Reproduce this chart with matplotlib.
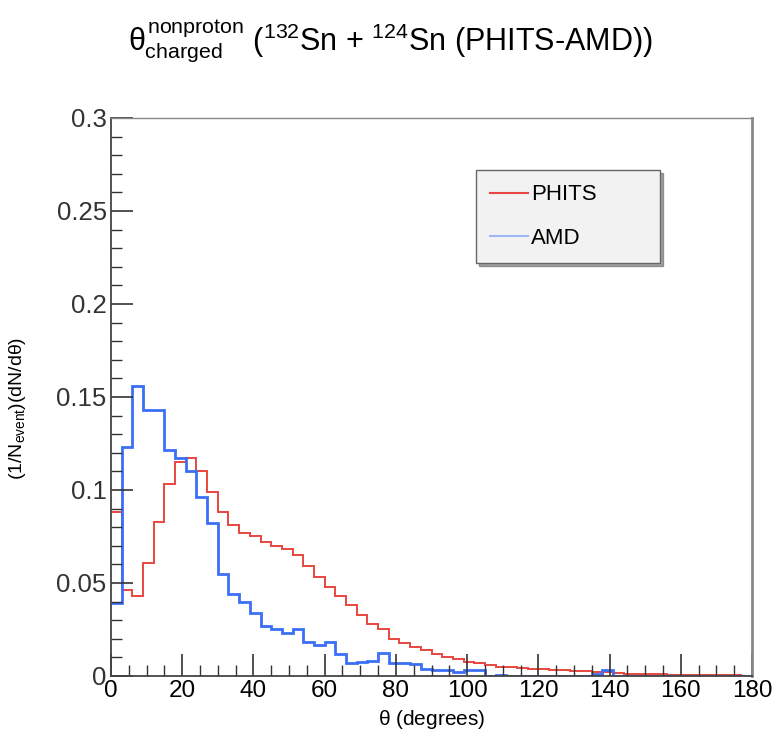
import numpy as np
import matplotlib
matplotlib.use("Agg")
import matplotlib.pyplot as plt
from matplotlib.lines import Line2D
from matplotlib.ticker import MultipleLocator

plt.rcParams['font.family'] = ['Liberation Sans', 'DejaVu Sans']
plt.rcParams['mathtext.fontset'] = 'custom'
plt.rcParams['mathtext.rm'] = 'Liberation Sans'
plt.rcParams['mathtext.it'] = 'Liberation Sans'

# 60 bins of 3 degrees, 0..180
theta_lo, theta_hi, n_bins = 0, 180, 60

phits = [0.088, 0.046, 0.043, 0.061, 0.083, 0.103, 0.115, 0.117, 0.110, 0.099,
         0.088, 0.081, 0.077, 0.075, 0.072, 0.070, 0.068, 0.065, 0.059, 0.053,
         0.048, 0.043, 0.038, 0.033, 0.028, 0.025, 0.020, 0.0175, 0.0158, 0.014,
         0.012, 0.0104, 0.009, 0.0077, 0.0068, 0.006, 0.005, 0.0048, 0.0042, 0.004,
         0.0038, 0.0032, 0.003, 0.0027, 0.0024, 0.0022, 0.002, 0.0014, 0.0012, 0.0011,
         0.001, 0.0008, 0.0006, 0.0005, 0.0005, 0.0004, 0.0004, 0.0003, 0.0003, 0.0002]

amd = [0.039, 0.123, 0.156, 0.143, 0.143, 0.1215, 0.117, 0.110, 0.096, 0.082,
       0.055, 0.044, 0.040, 0.034, 0.027, 0.025, 0.023, 0.025, 0.018, 0.0167,
       0.018, 0.012, 0.007, 0.0075, 0.008, 0.0125, 0.007, 0.007, 0.0065, 0.004,
       0.003, 0.003, 0.002, 0.003, 0.003, 0.0, 0.0005, 0.0, 0.0, 0.0,
       0.0, 0.0, 0.0, 0.0, 0.0, 0.001, 0.003, 0.0, 0.0, 0.0,
       0.0, 0.0, 0.0, 0.0, 0.0, 0.0, 0.0, 0.0, 0.0, 0.0]

edges = np.linspace(theta_lo, theta_hi, n_bins + 1)

fig = plt.figure(figsize=(7.81, 7.42), dpi=100)
ax = fig.add_axes([0.142, 0.089, 0.821, 0.752])

ax.stairs(phits, edges, color='#e8463e', lw=1.4, baseline=None)
ax.stairs(amd, edges, color='#3b6ff5', lw=2.0, baseline=None)

ax.set_xlim(0, 180)
ax.set_ylim(0, 0.3)
ax.xaxis.set_major_locator(MultipleLocator(20))
ax.xaxis.set_minor_locator(MultipleLocator(5))
ax.yaxis.set_minor_locator(MultipleLocator(0.01))
ax.set_yticks([0, 0.05, 0.1, 0.15, 0.2, 0.25, 0.3])
ax.set_yticklabels(['0', '0.05', '0.1', '0.15', '0.2', '0.25', '0.3'])

ax.tick_params(which='both', direction='in', top=False, right=False, color='#333333')
ax.tick_params(which='major', length=16, width=1.2)
ax.tick_params(which='minor', length=8, width=1.0)
ax.tick_params(axis='x', labelsize=17.5, pad=3)
ax.tick_params(axis='y', labelsize=18.5, pad=3)
for lab in ax.get_yticklabels():
    lab.set_color('#333333')

for s in ['left', 'bottom']:
    ax.spines[s].set_color('#444444')
    ax.spines[s].set_linewidth(1.3)
for s in ['top', 'right']:
    ax.spines[s].set_color('#888888')
    ax.spines[s].set_linewidth(1.0)
ax.spines['right'].set_linewidth(2.0)

ax.set_xlabel(r'$\theta$ (degrees)', fontsize=15, labelpad=4)
ax.set_ylabel(r'(1/N$_{\rm event}$)(dN/d$\theta$)', fontsize=14)
ax.yaxis.set_label_coords(-0.13, 0.48)

fig.text(0.5, 0.945,
         r'$\theta^{\rm nonproton}_{\rm charged}$ ($^{132}$Sn + $^{124}$Sn (PHITS-AMD))',
         ha='center', va='center', fontsize=22)

handles = [Line2D([], [], color='#e8463e', lw=1.5),
           Line2D([], [], color='#9fb7f7', lw=1.5)]
leg = ax.legend(handles, ['PHITS', 'AMD'], loc='upper left',
                bbox_to_anchor=(0.569, 0.907, 0.287, 0.0), mode='expand',
                fontsize=16, frameon=True,
                fancybox=False, shadow=True, handlelength=1.7, handletextpad=0.15,
                labelspacing=1.0, borderpad=0.65, borderaxespad=0)
leg.get_frame().set_facecolor('#f2f2f2')
leg.get_frame().set_edgecolor('#666666')

fig.savefig('out.png', dpi=100)
